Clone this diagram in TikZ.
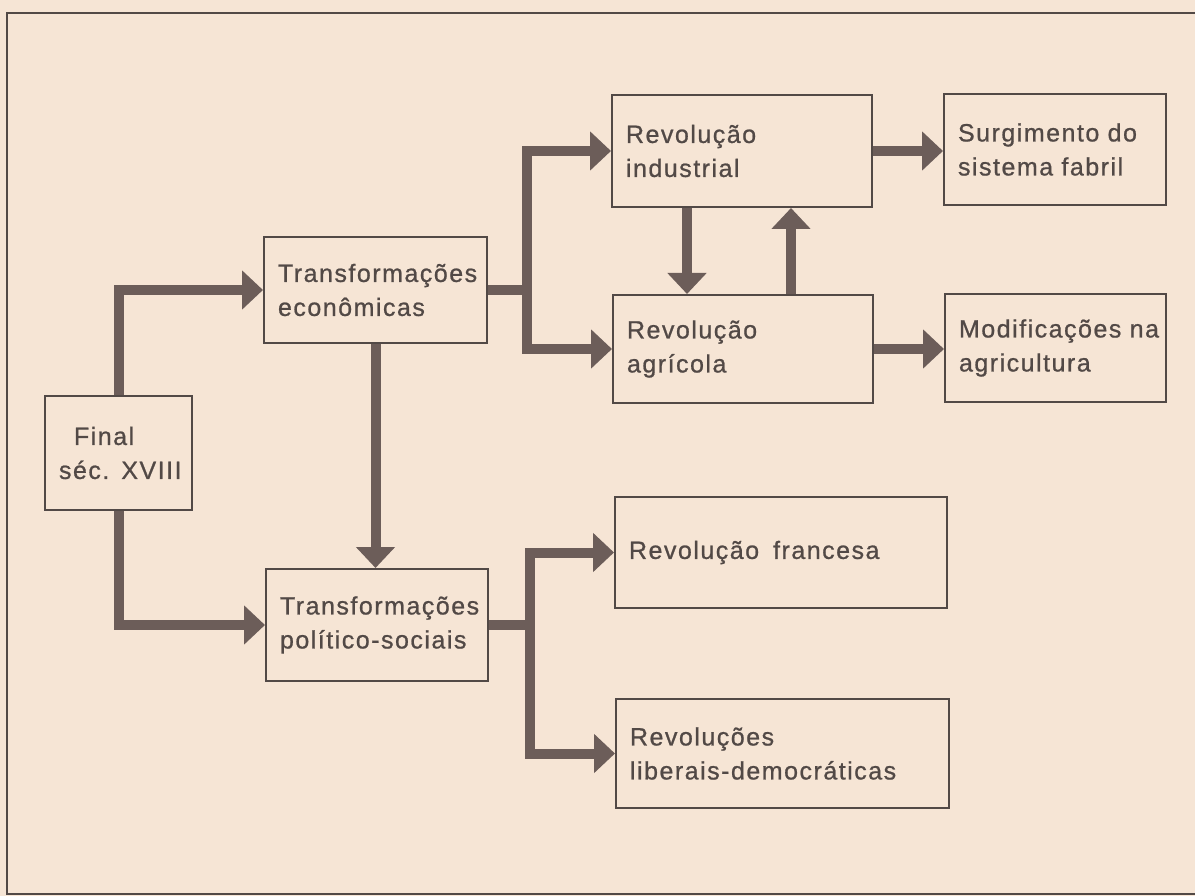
\documentclass[tikz,border=0pt]{standalone}
\usepackage{fontspec}
\setmainfont{Liberation Sans}
\newfontfamily\lab[LetterSpace=6,FakeBold=0.8]{Liberation Sans}
\usetikzlibrary{arrows.meta,calc}
\definecolor{paper}{HTML}{F6E5D5}
\definecolor{ink}{HTML}{524946}
\definecolor{arr}{HTML}{6C5D59}
\newcommand{\bx}[6]{\node[box, text width=\dimexpr#4pt-28pt\relax, minimum height=#5pt] (#1) at (#2,#3) {#6};}
\begin{document}
\begin{tikzpicture}[x=1pt,y=-1pt,
  box/.style={draw=ink, line width=2pt, anchor=north west, inner xsep=14pt, inner ysep=0pt,
    align=left, text=ink, font=\lab\fontsize{25}{34}\selectfont},
  conn/.style={draw=arr, line width=10pt, -{Triangle[width=38pt,length=21pt]}},
  shaft/.style={draw=arr, line width=10pt},
  frame/.style={draw=ink, line width=2.5pt}]
\fill[paper] (0,0) rectangle (1195,896);
\useasboundingbox (0,0) rectangle (1195,896);
\draw[frame] (1195,13) -| (7,894) -- (1195,894);

\bx{final}{44}{395}{147}{114}{\mbox{\hspace*{15pt}Final}\\\mbox{séc.\hspace{12pt}XVIII}}
\bx{econ}{263}{236}{223}{106}{\mbox{Transformações}\\\mbox{econômicas}}
\bx{polit}{265}{568}{222}{112}{\mbox{Transformações}\\\mbox{político-sociais}}
\bx{ind}{611}{94}{260}{112}{\mbox{Revolução}\\\mbox{industrial}}
\bx{agr}{612}{294}{260}{108}{\mbox{Revolução}\\\mbox{agrícola}}
\bx{surg}{943}{93}{222}{111}{\mbox{Surgimento do}\\\mbox{sistema fabril}}
\bx{modif}{944}{293}{221}{108}{\mbox{Modificações na}\\\mbox{agricultura}}
\bx{franc}{614}{496}{332}{111}{\mbox{Revolução\hspace{14pt}francesa}}
\bx{lib}{615}{698}{333}{109}{\mbox{Revoluções}\\\mbox{liberais-democráticas}}

\draw[conn] (final.north) |- (econ.west);
\draw[conn] (final.south) |- (polit.west);
\draw[conn] (econ.south) -- (econ.south |- polit.north);

\coordinate (j1) at ($(econ.east)+(39,0)$);
\draw[shaft] (econ.east) -- (j1);
\draw[conn] (j1) |- (ind.west);
\draw[conn] (j1) |- (agr.west);

\coordinate (d1) at ([xshift=76pt]ind.south west);
\draw[conn] (d1) -- (d1 |- agr.north);
\coordinate (u1) at ([xshift=179pt]agr.north west);
\draw[conn] (u1) -- (u1 |- ind.south);

\draw[conn] (ind.east) -- (ind.east -| surg.west);
\draw[conn] (agr.east) -- (agr.east -| modif.west);

\coordinate (j2) at ($(polit.east)+(41,0)$);
\draw[shaft] (polit.east) -- (j2);
\draw[conn] (j2) |- (franc.west);
\draw[conn] (j2) |- (lib.west);
\end{tikzpicture}
\end{document}
